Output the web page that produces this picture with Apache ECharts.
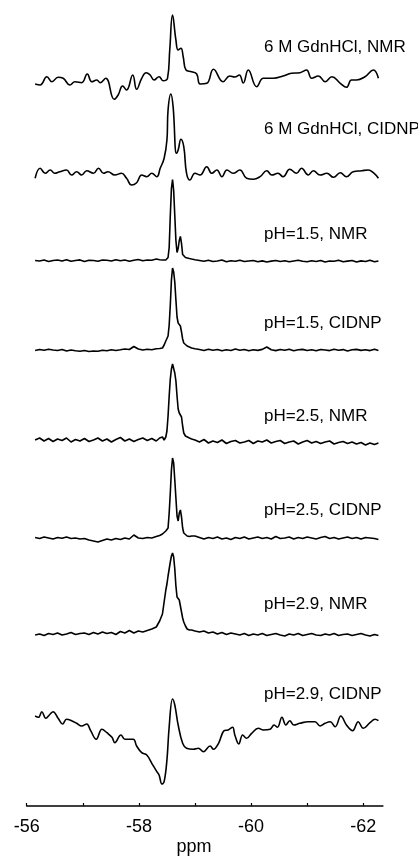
<!DOCTYPE html>
<html>
<head>
<meta charset="utf-8">
<script src="https://cdn.jsdelivr.net/npm/echarts@6/dist/echarts.min.js"></script>
<style>html,body{margin:0;padding:0;background:#fff}#c{width:418px;height:863px}</style>
</head>
<body>
<div id="c"></div>
<script>
// Spectrum labels (top to bottom)
const labels = ['6 M GdnHCl, NMR', '6 M GdnHCl, CIDNP', 'pH=1.5, NMR', 'pH=1.5, CIDNP',
  'pH=2.5, NMR', 'pH=2.5, CIDNP', 'pH=2.9, NMR', 'pH=2.9, CIDNP'];
// vertical offsets of each trace's baseline (stacking)
const offsets = [726, 633, 545.5, 456, 365, 268, 172, 86];
const xTicks = [-56, -57, -58, -59, -60, -61, -62];
const xLabels = [-56, -58, -60, -62];

// 6 M GdnHCl, NMR
const ppm1 = [-56.15,-56.24,-56.36,-56.45,-56.56,-56.65,-56.77,-56.86,-56.98,-57.08,-57.16,-57.25,-57.31,-57.41,-57.56,-57.63,-57.71,-57.78,-57.89,-57.96,-58.05,-58.13,-58.20,-58.27,-58.36,-58.43,-58.51,-58.55,-58.60,-58.66,-58.70,-58.75,-58.79,-58.84,-58.94,-59.03,-59.09,-59.21,-59.33,-59.50,-59.62,-59.71,-59.79,-59.86,-59.95,-60.10,-60.22,-60.40,-60.57,-60.72,-60.87,-60.99,-61.08,-61.20,-61.32,-61.44,-61.59,-61.70,-61.79,-61.88,-62.03,-62.18,-62.27];
const int1 = [-4,-5,3.3,-1.7,2.7,1.7,-5,-1.7,-2.7,6,-1.7,0,-2.7,1.7,-19.3,-15,-6,-10,5,-9.3,1.7,7.3,5,0,3.3,-0.7,1.7,30,65,40,30,31.7,23.3,10,8.3,6,-4,-3.3,10.7,-1.7,4,3,5,-3,10,-6.7,1.7,1.7,4,6.7,7.3,10,1.7,4,-1.7,3.3,-3.3,-7.3,0,0,3.3,10,1.7];

// 6 M GdnHCl, CIDNP
const ppm2 = [-56.15,-56.24,-56.33,-56.42,-56.50,-56.59,-56.71,-56.80,-56.89,-56.98,-57.07,-57.19,-57.28,-57.37,-57.45,-57.57,-57.69,-57.78,-57.87,-57.96,-58.05,-58.14,-58.23,-58.32,-58.38,-58.45,-58.50,-58.52,-58.57,-58.61,-58.67,-58.70,-58.75,-58.80,-58.85,-58.91,-59.00,-59.09,-59.21,-59.30,-59.39,-59.48,-59.57,-59.68,-59.80,-59.92,-60.04,-60.16,-60.28,-60.37,-60.48,-60.57,-60.69,-60.81,-60.90,-61.02,-61.11,-61.23,-61.35,-61.47,-61.59,-61.70,-61.82,-61.97,-62.09,-62.18,-62.27];
const int2 = [-5.3,4.7,-0.3,3,-0.3,1.3,3,-2,1.3,-2,2.3,-0.3,4.7,-0.3,1.3,-2,-0.3,-5.3,-12,-9.7,-2,-3.7,-0.3,-3.7,4.7,14.7,33,63,79,66.3,19.7,23,33.7,26.3,-0.3,-7,-0.3,-2,6.3,-0.3,3,-3.7,3,-0.3,3,-5.3,-6.3,-3.7,2.3,-2,-0.3,-3.7,3.7,-0.3,4.7,-2,2.3,-2,-0.3,-4.3,0.3,-3.7,1.3,2.3,3,0.3,-5.3];

// shared sampling for the pH=1.5 .. pH=2.9 NMR traces
const ppmN = [-56.15,-56.23,-56.31,-56.39,-56.47,-56.55,-56.63,-56.71,-56.79,-56.87,-56.95,-57.03,-57.11,-57.19,-57.27,-57.35,-57.43,-57.51,-57.59,-57.67,-57.75,-57.83,-57.91,-57.99,-58.07,-58.15,-58.23,-58.31,-58.37,
  -58.42,-58.45,-58.48,-58.50,-58.52,-58.54,-58.56,-58.58,-58.60,-58.62,-58.64,-58.66,-58.68,-58.70,-58.72,-58.74,-58.76,-58.78,-58.80,-58.83,-58.86,-58.90,-58.94,
  -59.00,-59.08,-59.16,-59.24,-59.32,-59.40,-59.48,-59.56,-59.64,-59.72,-59.80,-59.88,-59.96,-60.04,-60.12,-60.20,-60.28,-60.36,-60.44,-60.52,-60.60,-60.68,-60.76,-60.84,-60.92,-61.00,-61.08,-61.16,-61.24,-61.32,-61.40,-61.48,-61.56,-61.64,-61.72,-61.80,-61.88,-61.96,-62.04,-62.12,-62.20,-62.27];

// pH=1.5, NMR
const int3 = [0,-0.5,0.5,-1,0,0.5,-0.5,0.8,-0.8,0,0.6,-1,0.3,0,-0.7,0.5,0.2,-0.5,0.8,-0.3,0.5,-0.8,0.2,1,-0.2,0.5,0.3,1.5,0.8,
  0.5,0.5,0.5,1,3,13,45,72,81,70,45,20,8,12,20,24,17,6,4,3,2.5,2,1.5,
  0.8,0,-0.8,0.3,-1,-0.5,0.5,-1.2,-0.3,-0.8,0.3,-1,-0.5,0,-1.2,-0.4,-1.5,-0.6,0,-1,-0.3,-1.3,-0.5,0.2,-0.8,-1.2,-0.3,-1,0,-1.5,-0.5,-0.8,0.3,-1.2,-0.6,0,-1.5,-0.4,-1,0.2,-1.3,-0.5];
// pH=1.5, CIDNP
const int4 = [-0.5,0.5,-0.3,0.8,0,-0.5,0.5,-1,0,-0.8,-1.2,-0.5,-1.5,-1,-1.3,-0.3,-0.8,0.3,-0.5,0.2,1,0.5,3.5,1,0,0.8,0.3,1.2,1.5,
  2,5,9,11,14,25,45,70,82,78,68,50,33,27,29,24,18,11,7,5,4,3,2,
  1.2,0.5,-0.5,0.8,-0.3,0.5,-0.8,0.3,-0.5,1,-0.2,0.5,-0.8,0.3,-0.4,0.6,3,0.2,-0.6,0.5,-0.3,0.8,-0.7,0.2,0.6,-0.5,0.3,-0.8,0.5,0,-0.6,0.7,-0.2,0.4,-0.9,0.3,0.6,-0.4,0.2,-0.6,0.8,-0.5];
// pH=2.5, NMR
const int5 = [1,3,0,2.5,-0.5,2,0.5,3,-1,1.5,0,2.5,-0.5,1,3,0,2,-1,1.5,3.5,0,2,-0.5,1.5,3,0.5,2.5,0,3,
  4,1,4,10,25,45,62,72,77,75,68,60,45,32,28,26,24,15,8,5,4,3,2,
  1,-1,1.5,-2,0,-1.5,1,-2.5,-0.5,0.5,-2,-1,0.5,-2.5,0,-1,1,-2,-0.5,0.5,-2.5,-1,0,-3,-1,0.5,-2,-0.5,-2.5,-1,0,-3,-1.5,-0.5,-2.5,-1,-3,-1.5,-4,-2,-3.5,-2];
// pH=2.5, CIDNP
const int6 = [0.5,-0.5,1,0,-1,0.5,-0.3,1,-0.5,0,-1,-0.5,-2,-3,-4,-2.5,-1,-2,-0.5,-1.5,0,-1,3,0,-0.5,0.5,0,1.5,2.5,
  4,6,7,8,10,25,45,68,80,75,58,40,22,17,25,28,21,10,5,3,2,1.5,2,
  2,0.5,-1,0.5,-0.5,1,-1,0,-1.5,0.5,-0.5,1,-1,0,1,-0.5,0.5,-1,1.5,-0.5,0,1,-1,0.5,-0.5,1,0,-1,0.5,1.5,-0.5,0.5,-1,0,1,-0.5,0.5,-1,0.5,0,-0.5,-1.5];
// pH=2.9, NMR
const int7 = [-1,0,-1.5,0.5,-0.5,1,-1,0,1.5,-0.5,0.5,1,-0.5,1.5,0,2,0.5,1.5,-0.5,2.5,1,3.5,1,3,2,3.5,5,7,13,
  20,32,44,50,58,65,72,78,81,77,65,48,37,35,34,28,22,16,12,8,5,4,4,
  3,2,3,1,2,0,1.5,-0.5,1,0,-1,0.5,-1.5,0,-1,0.5,-1.5,-0.5,0.5,-1,-2,0,-1,0.5,-1.5,-0.5,0.5,-1,-1.5,0,-1,0.5,-1.5,-0.5,0,-1.5,-0.5,0.5,-1,-2,-0.5,-1.5];

// pH=2.9, CIDNP
const ppm8 = [-56.15,-56.21,-56.27,-56.34,-56.42,-56.47,-56.56,-56.64,-56.71,-56.80,-56.89,-56.98,-57.07,-57.14,-57.24,-57.34,-57.43,-57.52,-57.57,-57.68,-57.75,-57.90,-57.96,-58.05,-58.14,-58.23,-58.32,-58.36,-58.41,-58.45,-58.50,-58.54,-58.60,-58.64,-58.70,-58.78,-58.85,-58.97,-59.06,-59.15,-59.27,-59.33,-59.42,-59.52,-59.59,-59.67,-59.71,-59.78,-59.85,-59.92,-60.01,-60.13,-60.22,-60.34,-60.41,-60.47,-60.55,-60.62,-60.69,-60.76,-60.87,-61.02,-61.14,-61.23,-61.32,-61.41,-61.50,-61.60,-61.70,-61.81,-61.91,-62.00,-62.12,-62.21,-62.27];
const int8 = [4,2.7,8.3,1.7,6,8.3,1.7,-4,0.7,-0.7,-3.3,-6,-4,-10.7,-19.3,-9.3,-12.7,-17.3,-22.7,-15,-19.3,-19.3,-26,-32.7,-35,-43.3,-51.7,-55,-64,-61.7,-40,-6.7,21,15,-5,-23.3,-28.3,-29.3,-28.3,-31.7,-26,-29.3,-23.3,-10.7,-10,-7.3,-15,-24,-15,-18.3,-13.3,-8.3,-10,-9.3,-5,-7.3,2.7,-5,-0.7,-5,-3.3,-1.7,-1.7,-6,-3.3,-1.7,-6.7,4,-5,-10.7,-1.7,-8.3,-2.7,0.7,-0.7];

const traces = [
  [ppm1, int1, 0.45], [ppm2, int2, 0.45], [ppmN, int3, 0], [ppmN, int4, 0],
  [ppmN, int5, 0], [ppmN, int6, 0], [ppmN, int7, 0], [ppm8, int8, 0.4]
];
const labelY = [48.5, 131, 236, 325, 418, 511.5, 606, 696];

const FONT = '"Liberation Sans", Arial, sans-serif';
const chart = echarts.init(document.getElementById('c'), null, {renderer: 'canvas'});
chart.setOption({
  animation: false,
  backgroundColor: '#fff',
  grid: {left: 26.7, right: 35.1, top: 0, bottom: 57},
  xAxis: {
    type: 'value', inverse: true, min: -62.35, max: -56,
    splitLine: {show: false},
    axisLine: {show: true, onZero: false, lineStyle: {color: '#000', width: 1.5}},
    axisTick: {show: true, inside: true, length: 3, customValues: xTicks, lineStyle: {color: '#000', width: 1.2}},
    axisLabel: {customValues: xLabels, color: '#000', fontSize: 18, fontFamily: FONT, margin: 12}
  },
  yAxis: {type: 'value', min: 0, max: 806, show: false, splitLine: {show: false}},
  graphic: labels.map((t, i) => ({
    type: 'text', left: 264, top: labelY[i] - 10,
    style: {text: t, fontSize: 17, fontFamily: FONT, fill: '#000', verticalAlign: 'top'}
  })).concat([{
    type: 'text', x: 194, y: 847,
    style: {text: 'ppm', fontSize: 18, fontFamily: FONT, fill: '#000', align: 'center', verticalAlign: 'middle'}
  }]),
  series: traces.map((tr, i) => ({
    type: 'line', showSymbol: false, smooth: tr[2], silent: true,
    lineStyle: {color: '#000', width: 1.6},
    data: tr[0].map((x, j) => [x, offsets[i] + tr[1][j]])
  }))
});
</script>
</body>
</html>
